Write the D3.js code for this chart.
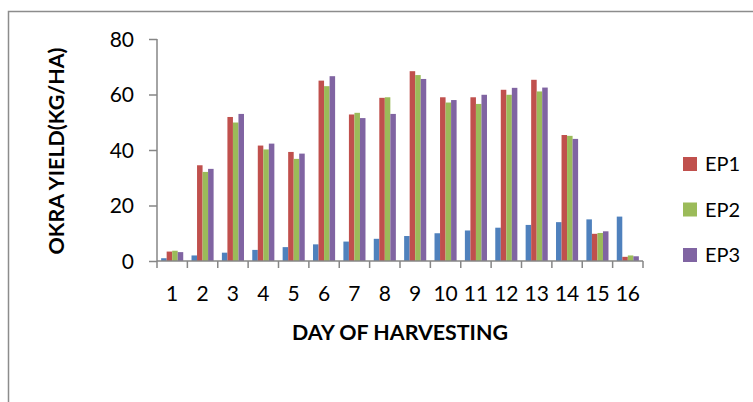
<!DOCTYPE html>
<html>
<head>
<meta charset="utf-8">
<script src="https://cdn.jsdelivr.net/npm/d3@7"></script>
<style>
  html, body { margin: 0; padding: 0; background: #fff; }
  svg { display: block; }
  text { font-family: Lato, "Open Sans", sans-serif; fill: #000; }
</style>
</head>
<body>
<svg id="chart" width="753" height="402"></svg>
<script>
// ---- data ----
const days = ["1","2","3","4","5","6","7","8","9","10","11","12","13","14","15","16"];
const seriesNames = ["Series1", "EP1", "EP2", "EP3"];
const legendNames = ["EP1", "EP2", "EP3"];
const series1 = [1, 2, 3, 4, 5, 6, 7, 8, 9, 10, 11, 12, 13, 14, 15, 16];
const ep1 = [3.4, 34.5, 51.9, 41.6, 39.3, 65.0, 52.8, 58.8, 68.4, 59.0, 59.0, 61.7, 65.3, 45.4, 9.8, 1.5];
const ep2 = [3.7, 32.1, 49.9, 40.2, 36.8, 63.0, 53.4, 59.0, 67.0, 57.1, 56.6, 59.9, 61.1, 45.1, 10.1, 2.0];
const ep3 = [3.2, 33.2, 53.0, 42.3, 38.7, 66.6, 51.5, 53.0, 65.6, 58.0, 59.9, 62.4, 62.5, 44.0, 10.7, 1.7];
const yTicks = [0, 20, 40, 60, 80];
const colors = ["#4F81BD", "#C0504D", "#9BBB59", "#8064A2"];

const seriesValues = [series1, ep1, ep2, ep3];
const rows = days.map((d, i) => ({ day: d, values: seriesNames.map((s, k) => ({ key: s, value: seriesValues[k][i] })) }));

const svg = d3.select("#chart");

// outer chart border
svg.append("rect")
  .attr("x", 8.5).attr("y", 11.5)
  .attr("width", 800).attr("height", 500)
  .attr("fill", "none").attr("stroke", "#8c8c8c").attr("stroke-width", 1.5);

const plotL = 157, plotR = 643, plotT = 39, plotB = 261;

const x0 = d3.scaleBand().domain(days).range([plotL, plotR]).paddingInner(0).paddingOuter(0);
const x1 = d3.scaleBand().domain(seriesNames).range([0, x0.bandwidth()]).paddingInner(0).paddingOuter(0.75);
const y = d3.scaleLinear().domain([0, 80]).range([plotB, plotT]);
const color = d3.scaleOrdinal().domain(seriesNames).range(colors);

// bars
const groups = svg.append("g").selectAll("g").data(rows).join("g")
  .attr("transform", d => `translate(${x0(d.day)},0)`);
groups.selectAll("rect").data(d => d.values).join("rect")
  .attr("x", d => x1(d.key))
  .attr("y", d => y(d.value))
  .attr("width", x1.bandwidth())
  .attr("height", d => y(0) - y(d.value))
  .attr("fill", d => color(d.key));

const axisColor = "#868686";

// y axis
const yAxis = svg.append("g").attr("transform", `translate(${plotL},0)`)
  .call(d3.axisLeft(y).tickValues(yTicks).tickSize(8).tickPadding(15));
yAxis.select(".domain").attr("stroke", axisColor).attr("stroke-width", 1.5).attr("d", `M0,${plotT}V${plotB}`);
yAxis.selectAll(".tick line").attr("stroke", axisColor).attr("stroke-width", 1.5);
yAxis.selectAll(".tick text").attr("font-size", 21).attr("font-family", "Lato").attr("fill", "#000").attr("dy", "0.35em");

// x axis: ticks at category boundaries
const xAxis = svg.append("g").attr("transform", `translate(0,${plotB})`)
  .call(d3.axisBottom(x0).tickSize(0).tickPadding(26));
xAxis.select(".domain").attr("stroke", axisColor).attr("stroke-width", 1.5).attr("d", `M${plotL},0H${plotR}`);
xAxis.selectAll(".tick text").attr("font-size", 21).attr("font-family", "Lato").attr("fill", "#000").attr("dy", "0.35em").attr("y", 33);
const bounds = days.map(d => x0(d)).concat([plotR]);
xAxis.append("g").selectAll("line").data(bounds).join("line")
  .attr("x1", d => d).attr("x2", d => d).attr("y1", 0).attr("y2", 7)
  .attr("stroke", axisColor).attr("stroke-width", 1.5);

// axis titles
function fitText(sel, target) {
  const w = sel.node().getComputedTextLength();
  const fs = parseFloat(sel.attr("font-size"));
  sel.attr("font-size", fs * target / w);
}
const yTitle = svg.append("text")
  .attr("transform", "translate(56,151) rotate(-90)")
  .attr("text-anchor", "middle").attr("dy", "0.35em")
  .attr("font-weight", "bold").attr("font-size", 20)
  .text("OKRA YIELD(KG/HA)");
fitText(yTitle, 207);

const xTitle = svg.append("text")
  .attr("x", 400).attr("y", 333)
  .attr("text-anchor", "middle").attr("dy", "0.35em")
  .attr("font-weight", "bold").attr("font-size", 20)
  .text("DAY OF HARVESTING");
fitText(xTitle, 216);

// legend
const legend = svg.append("g").selectAll("g").data(legendNames).join("g")
  .attr("transform", (d, i) => `translate(683,${157 + i * 45.5})`);
legend.append("rect").attr("width", 14).attr("height", 14).attr("fill", d => color(d));
legend.append("text").attr("x", 22).attr("y", 7).attr("dy", "0.35em")
  .attr("font-size", 20).text(d => d);
</script>
</body>
</html>
